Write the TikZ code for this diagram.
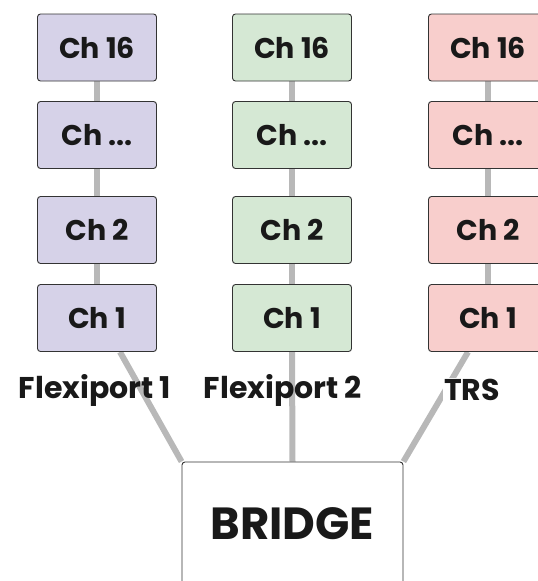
\documentclass[tikz,border=0pt]{standalone}
\usepackage{fontspec}
\setmainfont{Poppins}
\usetikzlibrary{backgrounds}

\definecolor{chpurple}{HTML}{D6D2E8}
\definecolor{chgreen}{HTML}{D5E8D4}
\definecolor{chred}{HTML}{F8CECC}
\definecolor{wire}{HTML}{B8B8B8}

\tikzset{ch/.style={draw=black!80, line width=0.9pt, rounded corners=3pt, minimum width=119pt, minimum height=67pt, text=black!90, font=\fontsize{28.5}{32}\selectfont\bfseries}}
\tikzset{link/.style={draw=wire, line width=6pt}}
\tikzset{port/.style={text=black!90, inner sep=1pt, font=\fontsize{30}{34}\selectfont\bfseries}}

\begin{document}
\begin{tikzpicture}[x=1pt, y=-1pt]
    \useasboundingbox (0,0) rectangle (538,581);

    % Flexiport 1
    \node[ch, fill=chpurple] (p16) at (97,47.5) {Ch 16};
    \node[ch, fill=chpurple] (pdots) at (97,135) {Ch ...};
    \node[ch, fill=chpurple] (p2) at (97,230) {Ch 2};
    \node[ch, fill=chpurple] (p1) at (97,318) {Ch 1};

    % Flexiport 2
    \node[ch, fill=chgreen] (g16) at (292,47.5) {Ch 16};
    \node[ch, fill=chgreen] (gdots) at (292,135) {Ch ...};
    \node[ch, fill=chgreen] (g2) at (292,230) {Ch 2};
    \node[ch, fill=chgreen] (g1) at (292,318) {Ch 1};

    % TRS
    \node[ch, fill=chred] (r16) at (488,47.5) {Ch 16};
    \node[ch, fill=chred] (rdots) at (488,135) {Ch ...};
    \node[ch, fill=chred] (r2) at (488,230) {Ch 2};
    \node[ch, fill=chred] (r1) at (488,318) {Ch 1};

    \node[draw=black!80, line width=0.9pt, rounded corners=3pt, fill=white, minimum width=221pt, minimum height=124pt, text=black!90, font=\fontsize{45}{50}\selectfont\bfseries] (bridge) at (292.5,524) {BRIDGE};

    \begin{scope}[on background layer]
    \draw[link] (p16) -- (pdots);
    \draw[link] (pdots) -- (p2);
    \draw[link] (p2) -- (p1);
    \draw[link] (g16) -- (gdots);
    \draw[link] (gdots) -- (g2);
    \draw[link] (g2) -- (g1);
    \draw[link] (r16) -- (rdots);
    \draw[link] (rdots) -- (r2);
    \draw[link] (r2) -- (r1);

    \draw[link] ([xshift=23pt]p1.south) -- (bridge.north west);
    \draw[link] (g1.south) -- (bridge.north);
    \draw[link] ([xshift=-20pt]r1.south) -- (bridge.north east);
    \end{scope}

    \node[port] (fp1) at (95,390) {Flexiport 1};
    \node[port] (fp2) at (283,390) {Flexiport 2};
    \node[port, fill=white] (trs) at (472,390) {TRS};
\end{tikzpicture}
\end{document}
